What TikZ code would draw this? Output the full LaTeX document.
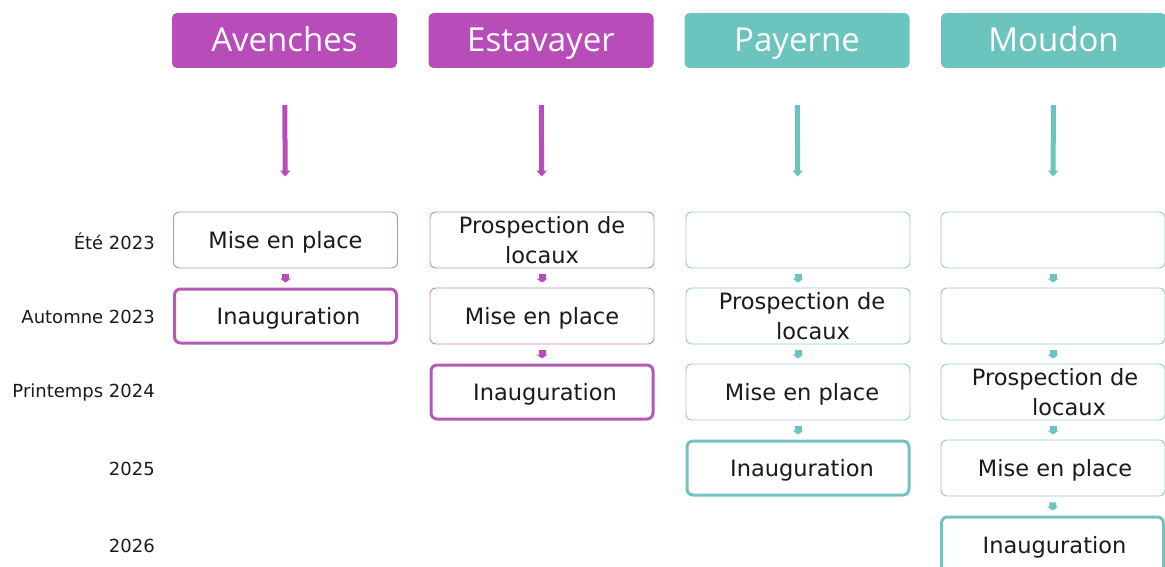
\documentclass[tikz,border=0pt]{standalone}
\usepackage{fontspec}
\setmainfont{DejaVu Sans}
\newfontfamily\hfont{Open Sans}
\usetikzlibrary{arrows.meta}
\definecolor{purp}{HTML}{B84CB9}
\definecolor{purpthin}{HTML}{C487C6}
\definecolor{purpthick}{HTML}{B45AB6}
\definecolor{teal}{HTML}{6CC4BE}
\definecolor{tealthin}{HTML}{90CDC8}
\definecolor{tealthick}{HTML}{72C3BD}
\definecolor{txt}{HTML}{1A1A1A}
\tikzset{
  header/.style={fill=#1, rounded corners=5pt, minimum width=225pt, minimum height=55pt,
     inner sep=0pt, text height=28pt, text depth=5pt, text=white, font=\hfont\fontsize{33}{36}\selectfont},
  stepbox/.style={draw=#1, line width=0.9pt, rounded corners=6pt, minimum width=224pt, minimum height=56pt,
     inner sep=0pt, align=center, text=txt, font=\fontsize{22.5}{30}\selectfont},
  oneline/.style={text height=19.5pt, text depth=2.5pt},
  finalbox/.style={stepbox=#1, oneline, line width=3pt, minimum width=222pt, minimum height=54pt},
  yearlbl/.style={anchor=east, text=txt, font=\fontsize{18}{20}\selectfont, inner sep=0pt},
  bigarrow/.style={draw=#1, line width=5pt, shorten <=37pt, shorten >=35pt,
     -{Triangle[width=10pt,length=6pt]}},
  smallarrow/.style={draw=#1, line width=7pt, shorten <=6pt, shorten >=5pt,
     -{Triangle[width=11pt,length=4pt]}}
}
\begin{document}
\begin{tikzpicture}[x=1pt,y=-1pt]
\useasboundingbox (0,0) rectangle (1165,567);
% headers
\node[header=purp] (hA) at (284.5,40.5) {Avenches};
\node[header=purp] (hE) at (541,40.5) {Estavayer};
\node[header=teal] (hP) at (797,40.5) {Payerne};
\node[header=teal] (hM) at (1053.5,40.5) {Moudon};
% year labels
\node[yearlbl] (y1) at (155,241) {Été 2023};
\node[yearlbl] (y2) at (155,317) {Automne 2023};
\node[yearlbl] (y3) at (155,393) {Printemps 2024};
\node[yearlbl] (y4) at (155,469) {2025};
\node[yearlbl] (y5) at (155,546) {2026};
% Avenches
\node[stepbox=purpthin, oneline] (a1) at (285.5,240) {Mise en place};
\node[finalbox=purpthick] (a2) at (285.5,316) {\hspace*{6pt}Inauguration};
% Estavayer
\node[stepbox=purpthin] (e1) at (542,240) {Prospection de\\locaux};
\node[stepbox=purpthin, oneline] (e2) at (542,316) {Mise en place};
\node[finalbox=purpthick] (e3) at (542,392) {\hspace*{6pt}Inauguration};
% Payerne
\node[stepbox=tealthin] (p1) at (798,240) {};
\node[stepbox=tealthin] (p2) at (798,316) {\hspace*{8pt}Prospection de\\\hspace*{30pt}locaux};
\node[stepbox=tealthin, oneline] (p3) at (798,392) {\hspace*{8pt}Mise en place};
\node[finalbox=tealthick] (p4) at (798,468) {\hspace*{8pt}Inauguration};
% Moudon
\node[stepbox=tealthin] (m1) at (1053,240) {};
\node[stepbox=tealthin] (m2) at (1053,316) {};
\node[stepbox=tealthin] (m3) at (1053,392) {\hspace*{4pt}Prospection de\\\hspace*{32pt}locaux};
\node[stepbox=tealthin, oneline] (m4) at (1053,468) {\hspace*{4pt}Mise en place};
\node[finalbox=tealthick, minimum height=56pt] (m5) at (1052.5,545) {\hspace*{4pt}Inauguration};
% big arrows
\draw[bigarrow=purp] (hA.south) -- (a1.north);
\draw[bigarrow=purp] (hE.south) -- (e1.north);
\draw[bigarrow=teal] (hP.south) -- (p1.north);
\draw[bigarrow=teal] (hM.south) -- (m1.north);
% small arrows
\draw[smallarrow=purp] (a1.south) -- (a2.north);
\draw[smallarrow=purp] (e1.south) -- (e2.north);
\draw[smallarrow=purp] (e2.south) -- (e3.north);
\draw[smallarrow=teal] (p1.south) -- (p2.north);
\draw[smallarrow=teal] (p2.south) -- (p3.north);
\draw[smallarrow=teal] (p3.south) -- (p4.north);
\draw[smallarrow=teal] (m1.south) -- (m2.north);
\draw[smallarrow=teal] (m2.south) -- (m3.north);
\draw[smallarrow=teal] (m3.south) -- (m4.north);
\draw[smallarrow=teal] (m4.south) -- (m5.north);
\end{tikzpicture}
\end{document}
